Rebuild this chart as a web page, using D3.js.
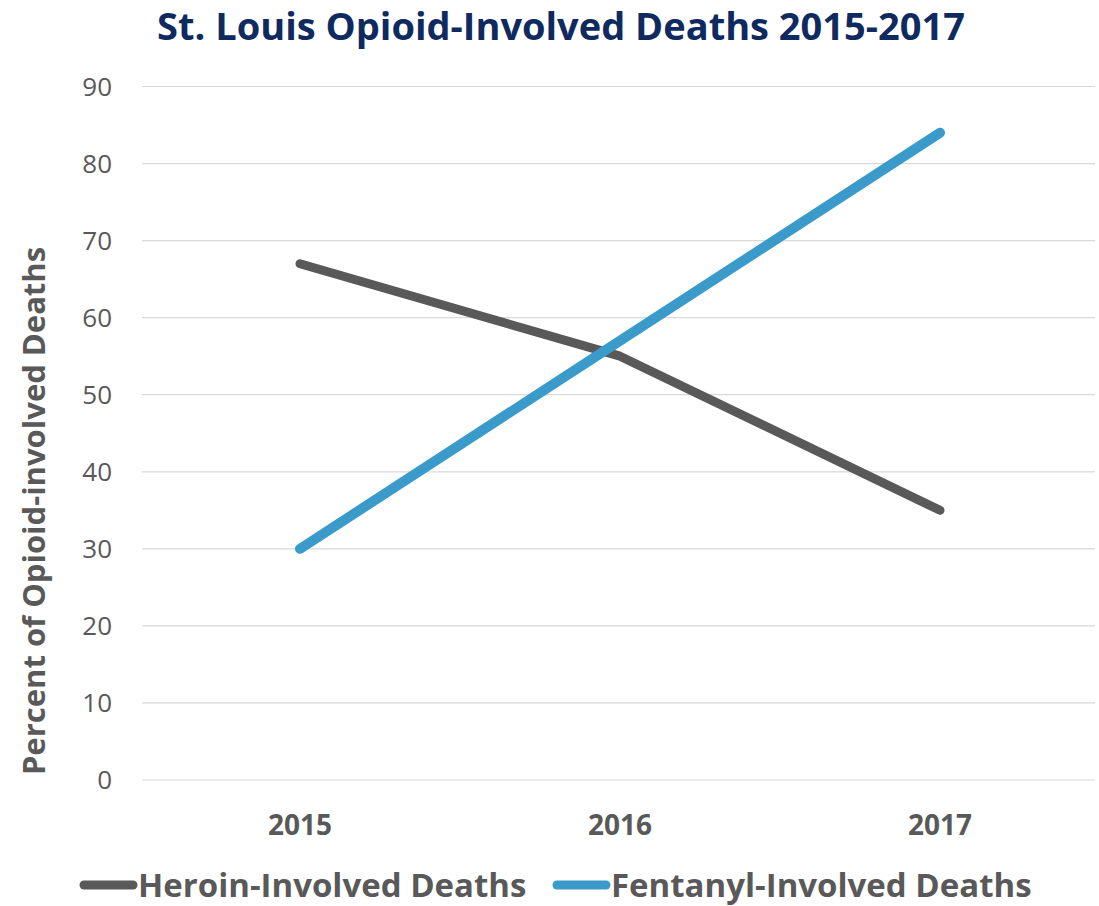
<!DOCTYPE html>
<html>
<head>
<meta charset="utf-8">
<script src="https://cdn.jsdelivr.net/npm/d3@7"></script>
<style>
  body { margin: 0; background: #fff; }
  svg { font-family: "Open Sans", "Noto Sans", sans-serif; }
</style>
</head>
<body>
<svg width="1099" height="906"></svg>
<script>
var years = ["2015", "2016", "2017"];
var heroin = [67, 55, 35];
var fentanyl = [30, 57, 84];
var yTicks = [0, 10, 20, 30, 40, 50, 60, 70, 80, 90];
var seriesNames = ["Heroin-Involved Deaths", "Fentanyl-Involved Deaths"];
var seriesColors = ["#595959", "#3A9BCB"];

var svg = d3.select("svg"),
    margin = {top: 86.5, right: 0, bottom: 126, left: 140},
    width = +svg.attr("width") - margin.left - margin.right,
    height = +svg.attr("height") - margin.top - margin.bottom;

var x = d3.scalePoint().domain(years).range([0, 960]).padding(0.5),
    y = d3.scaleLinear().domain([0, 90]).range([693.5, 0]);

svg.append("text")
    .attr("x", 561)
    .attr("y", 40)
    .attr("text-anchor", "middle")
    .style("font-size", "38px")
    .style("font-weight", "bold")
    .style("fill", "#0F2A5F")
    .text("St. Louis Opioid-Involved Deaths 2015-2017");

var g = svg.append("g")
    .attr("transform", "translate(" + margin.left + "," + margin.top + ")");

// gridlines
g.selectAll(".grid")
  .data(yTicks)
  .enter().append("line")
    .attr("x1", 2)
    .attr("x2", 955)
    .attr("y1", function(d) { return y(d); })
    .attr("y2", function(d) { return y(d); })
    .style("stroke", "#d9d9d9")
    .style("stroke-width", 1.2);

// y axis labels
g.selectAll(".ylab")
  .data(yTicks)
  .enter().append("text")
    .attr("x", -28)
    .attr("y", function(d) { return y(d); })
    .attr("dy", "0.35em")
    .attr("text-anchor", "end")
    .style("font-size", "26px")
    .style("fill", "#595959")
    .text(function(d) { return d; });

// x axis labels
g.selectAll(".xlab")
  .data(years)
  .enter().append("text")
    .attr("x", function(d) { return x(d); })
    .attr("y", 748)
    .attr("text-anchor", "middle")
    .style("font-size", "28px")
    .style("font-weight", "bold")
    .style("fill", "#595959")
    .text(function(d) { return d; });

svg.append("text")
    .attr("transform", "translate(45,511) rotate(-90)")
    .attr("text-anchor", "middle")
    .style("font-size", "31px")
    .style("font-weight", "bold")
    .style("fill", "#595959")
    .text("Percent of Opioid-involved Deaths");

var line = d3.line()
    .x(function(d, i) { return x(years[i]); })
    .y(function(d) { return y(d); });

[heroin, fentanyl].forEach(function(s, i) {
  g.append("path")
    .datum(s)
    .attr("d", line)
    .style("fill", "none")
    .style("stroke", seriesColors[i])
    .style("stroke-width", i === 0 ? 9 : 10)
    .style("stroke-linecap", "round")
    .style("stroke-linejoin", "round");
});

// legend
var legX = [84, 557];
var legend = svg.selectAll(".legend")
  .data(seriesNames)
  .enter().append("g")
    .attr("transform", function(d, i) { return "translate(" + legX[i] + ",885)"; });

legend.append("line")
    .attr("x1", 0)
    .attr("x2", 49)
    .style("stroke", function(d, i) { return seriesColors[i]; })
    .style("stroke-width", 9)
    .style("stroke-linecap", "round");

legend.append("text")
    .attr("x", 54)
    .attr("dy", "0.36em")
    .style("font-size", "33px")
    .style("font-weight", "bold")
    .style("fill", "#595959")
    .text(function(d) { return d; });
</script>
</body>
</html>
